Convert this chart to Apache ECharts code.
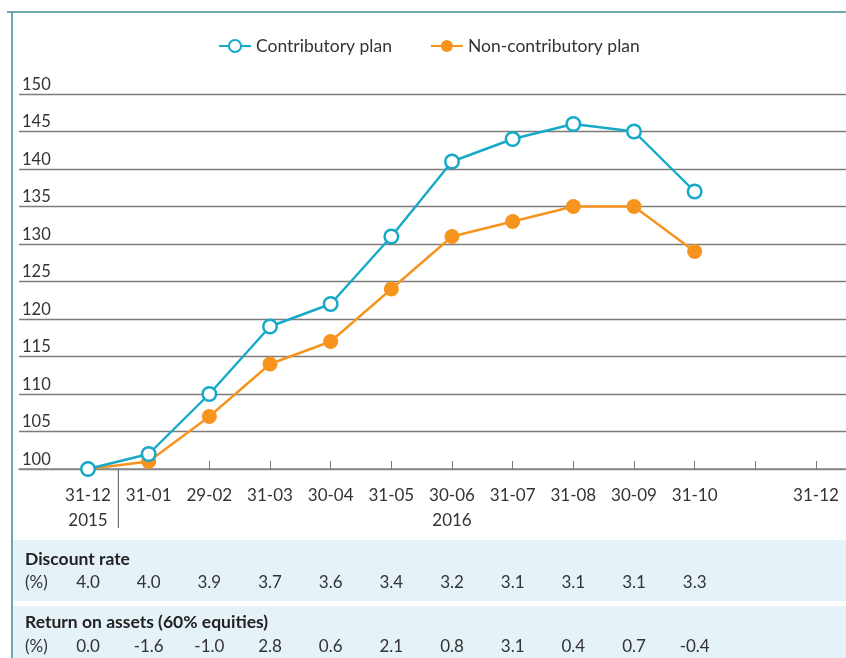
<!DOCTYPE html>
<html><head><meta charset="utf-8">
<script src="https://cdn.jsdelivr.net/npm/echarts@6/dist/echarts.min.js"></script>
<style>html,body{margin:0;padding:0;background:#fff}#c{width:846px;height:658px}</style>
</head><body><div id="c"></div>
<script>
const categories = ['31-12','31-01','29-02','31-03','30-04','31-05','30-06','31-07','31-08','30-09','31-10','','31-12'];
const yearLabels = {0:'2015', 6:'2016'};
const contributory = [100,102,110,119,122,131,141,144,146,145,137];
const nonContributory = [100,101,107,114,117,124,131,133,135,135,129];
const discountRate = ['4.0','4.0','3.9','3.7','3.6','3.4','3.2','3.1','3.1','3.1','3.3'];
const returnOnAssets = ['0.0','-1.6','-1.0','2.8','0.6','2.1','0.8','3.1','0.4','0.7','-0.4'];
const rowTitles = ['Discount rate','Return on assets (60% equities)'];
const unitLabel = '(%)';

const FONT = 'Lato, "Open Sans", sans-serif';
const TEAL = '#16a9c8', ORANGE = '#f7941e';
const idx = categories.map((c,i)=>i);

const chart = echarts.init(document.getElementById('c'), null, {renderer:'canvas'});
const option = {
  animation:false,
  backgroundColor:'#fff',
  textStyle:{fontFamily:FONT},
  legend:{
    data:['Contributory plan','Non-contributory plan'],
    top:32, left:213, itemWidth:32, itemHeight:15, itemGap:38,
    textStyle:{fontSize:17.5,color:'#333',fontFamily:FONT}
  },
  grid:{left:19,right:0,top:94,bottom:189,containLabel:false},
  xAxis:{
    type:'value', min:-1.1374, max:12.4945,
    axisLine:{show:true,lineStyle:{color:'#888',width:1.6}},
    axisTick:{show:true,inside:true,length:8,customValues:idx,lineStyle:{color:'#777',width:1}},
    axisLabel:{customValues:idx,margin:14,fontSize:17,lineHeight:25,color:'#333',fontFamily:FONT,
      formatter:v=>{const i=Math.round(v);return categories[i]+(yearLabels[i]?'\n'+yearLabels[i]:'');}},
    splitLine:{show:false}
  },
  yAxis:{
    type:'value', min:100, max:150, interval:5,
    axisLine:{show:false}, axisTick:{show:false},
    splitLine:{show:true,lineStyle:{color:'#7c7c7c',width:1.4}},
    axisLabel:{inside:true,verticalAlign:'bottom',margin:3,fontSize:16.5,color:'#333',fontFamily:FONT,padding:[0,0,1,0]}
  },
  series:[
    {name:'Non-contributory plan',type:'line',data:nonContributory.map((v,i)=>[i,v]),
      symbol:'circle',symbolSize:15,itemStyle:{color:ORANGE},lineStyle:{color:ORANGE,width:2.4},z:2},
    {name:'Contributory plan',type:'line',data:contributory.map((v,i)=>[i,v]),
      symbol:'circle',symbolSize:13.5,itemStyle:{color:'#fff',borderColor:TEAL,borderWidth:2.5},lineStyle:{color:TEAL,width:2.4},z:3}
  ]
};
chart.setOption(option);

const px = i => chart.convertToPixel({gridIndex:0},[i,100]);
const axisY = px(0)[1];
const g = [];
g.push({type:'line',shape:{x1:7,y1:12,x2:846,y2:12},style:{stroke:'#3f8d96',lineWidth:1.5}});
g.push({type:'line',shape:{x1:12,y1:12,x2:12,y2:658},style:{stroke:'#3f8d96',lineWidth:1.5}});
g.push({type:'line',shape:{x1:px(0.5)[0],y1:axisY,x2:px(0.5)[0],y2:axisY+59},style:{stroke:'#555',lineWidth:1}});
g.push({type:'rect',shape:{x:13,y:540,width:833,height:61},style:{fill:'#e5f2f7'},z:-1});
g.push({type:'rect',shape:{x:13,y:606,width:833,height:52},style:{fill:'#e5f2f7'},z:-1});
const rows = [[discountRate,559,583],[returnOnAssets,622,647]];
rows.forEach((r,ri)=>{
  g.push({type:'text',x:25,y:r[1],style:{text:rowTitles[ri],font:'bold 17.5px '+FONT,fill:'#222',verticalAlign:'middle',textAlign:'left'}});
  g.push({type:'text',x:25,y:r[2],style:{text:unitLabel,font:'17px '+FONT,fill:'#333',verticalAlign:'middle',textAlign:'left'}});
  r[0].forEach((v,i)=>{
    g.push({type:'text',x:px(i)[0],y:r[2],style:{text:v,font:'17px '+FONT,fill:'#333',verticalAlign:'middle',textAlign:'center'}});
  });
});
chart.setOption({graphic:{elements:g}});
</script></body></html>
